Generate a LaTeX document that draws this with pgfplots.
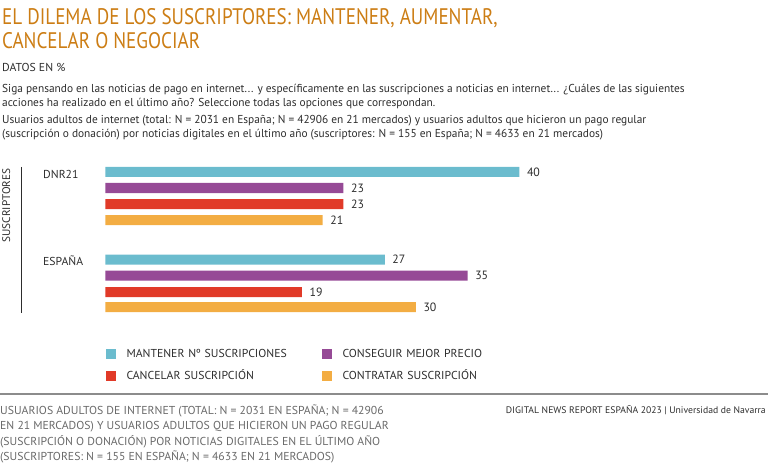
\documentclass[border=0pt]{standalone}
\usepackage{pgfplots}
\pgfplotsset{compat=1.18}
\usepackage{fontspec}
\setmainfont{PT Sans}[FakeStretch=0.99]
\newfontfamily\titlefont{PT Sans}[FakeStretch=0.848]
\newfontfamily\capsfont{PT Sans}[FakeStretch=1.02]
\definecolor{cMant}{RGB}{107,188,206}
\definecolor{cPrec}{RGB}{150,74,150}
\definecolor{cCanc}{RGB}{225,58,40}
\definecolor{cCont}{RGB}{243,173,67}
\definecolor{cTitle}{RGB}{204,125,20}
\definecolor{cText}{RGB}{45,45,45}
\definecolor{cFoot}{RGB}{105,105,105}
\definecolor{cRule}{RGB}{140,140,140}
\newcommand\fs[1]{\fontsize{#1}{#1}\selectfont}
\begin{document}
\begin{tikzpicture}
\useasboundingbox (0pt,0pt) rectangle (768pt,-470pt);
% titles
\node[anchor=base west, inner sep=0pt, text=cTitle, font={\titlefont\fs{22.5}}] at (2pt,-25pt) {EL DILEMA DE LOS SUSCRIPTORES: MANTENER, AUMENTAR,};
\node[anchor=base west, inner sep=0pt, text=cTitle, font={\titlefont\fs{22.5}}] at (2pt,-48.5pt) {CANCELAR O NEGOCIAR};
\node[anchor=base west, inner sep=0pt, text=cText, font={\capsfont\fs{11.5}}] at (2pt,-72pt) {DATOS EN \%};
\node[anchor=base west, inner sep=0pt, text=cText, font=\fs{11.5}] at (2pt,-93pt) {Siga pensando en las noticias de pago en internet... y específicamente en las suscripciones a noticias en internet... ¿Cuáles de las siguientes};
\node[anchor=base west, inner sep=0pt, text=cText, font=\fs{11.5}] at (2pt,-107pt) {acciones ha realizado en el último año? Seleccione todas las opciones que correspondan.};
\node[anchor=base west, inner sep=0pt, text=cText, font=\fs{11.5}] at (2pt,-124pt) {Usuarios adultos de internet (total: N = 2031 en España; N = 42906 en 21 mercados) y usuarios adultos que hicieron un pago regular};
\node[anchor=base west, inner sep=0pt, text=cText, font=\fs{11.5}] at (2pt,-138pt) {(suscripción o donación) por noticias digitales en el último año (suscriptores: N = 155 en España; N = 4633 en 21 mercados)};
% group labels
\node[anchor=base, inner sep=0pt, rotate=90, text=cText, font={\capsfont\fs{11}}] at (10pt,-205.5pt) {SUSCRIPTORES};
\draw[cText, line width=1pt] (21.7pt,-167pt) -- (21.7pt,-313pt);
\node[anchor=base west, inner sep=0pt, text=cText, font={\capsfont\fs{11.5}}] at (43pt,-178.3pt) {DNR21};
\node[anchor=base west, inner sep=0pt, text=cText, font={\capsfont\fs{11.5}}] at (43pt,-265.7pt) {ESPAÑA};
% chart
\begin{axis}[
  at={(105.3pt,-320pt)}, anchor=south west,
  scale only axis, width=517.5pt, height=160pt,
  xmin=0, xmax=50, ymin=-320, ymax=-160,
  hide axis,
  xbar, bar width=10pt, bar shift=0pt,
  /pgf/number format/assume math mode=true,
  nodes near coords,
  nodes near coords style={anchor=west, inner sep=0pt, xshift=7.5pt, font=\fs{12}, text=cText},
  legend image code/.code={\fill[#1] (0pt,-1pt) rectangle (10pt,9pt);},
  legend columns=2,
  legend style={at={(0,-0.177)}, anchor=north west, draw=none, fill=none, inner sep=0pt,
    row sep=11pt, cells={anchor=base west},
    nodes={inner sep=0pt, text width=206pt, align=left, text height=8pt, text depth=2pt,
      execute at begin node={\hspace*{11pt}}, font={\capsfont\fs{11.5}}, text=cText}},
]
\addplot[fill=cMant, draw=none] coordinates {(40,-172) (27,-259.5)};
\addlegendentry{MANTENER Nº SUSCRIPCIONES}
\addplot[fill=cPrec, draw=none] coordinates {(23,-188) (35,-275.5)};
\addlegendentry{CONSEGUIR MEJOR PRECIO}
\addplot[fill=cCanc, draw=none] coordinates {(23,-204) (19,-292)};
\addlegendentry{CANCELAR SUSCRIPCIÓN}
\addplot[fill=cCont, draw=none] coordinates {(21,-220) (30,-307)};
\addlegendentry{CONTRATAR SUSCRIPCIÓN}
\end{axis}
% footer
\draw[cRule, line width=1.5pt] (0pt,-394pt) -- (768pt,-394pt);
\node[anchor=base west, inner sep=0pt, text=cFoot, font={\capsfont\fs{11.5}}] at (0pt,-414pt) {USUARIOS ADULTOS DE INTERNET (TOTAL: N = 2031 EN ESPAÑA; N = 42906};
\node[anchor=base west, inner sep=0pt, text=cFoot, font={\capsfont\fs{11.5}}] at (0pt,-429.5pt) {EN 21 MERCADOS) Y USUARIOS ADULTOS QUE HICIERON UN PAGO REGULAR};
\node[anchor=base west, inner sep=0pt, text=cFoot, font={\capsfont\fs{11.5}}] at (0pt,-445pt) {(SUSCRIPCIÓN O DONACIÓN) POR NOTICIAS DIGITALES EN EL ÚLTIMO AÑO};
\node[anchor=base west, inner sep=0pt, text=cFoot, font={\capsfont\fs{11.5}}] at (0pt,-460.5pt) {(SUSCRIPTORES: N = 155 EN ESPAÑA; N = 4633 EN 21 MERCADOS)};
\node[anchor=base east, inner sep=0pt, text=cText, font={\capsfont\fs{9.5}}] at (766pt,-413.5pt) {DIGITAL NEWS REPORT ESPAÑA 2023 | Universidad de Navarra};
\end{tikzpicture}
\end{document}
